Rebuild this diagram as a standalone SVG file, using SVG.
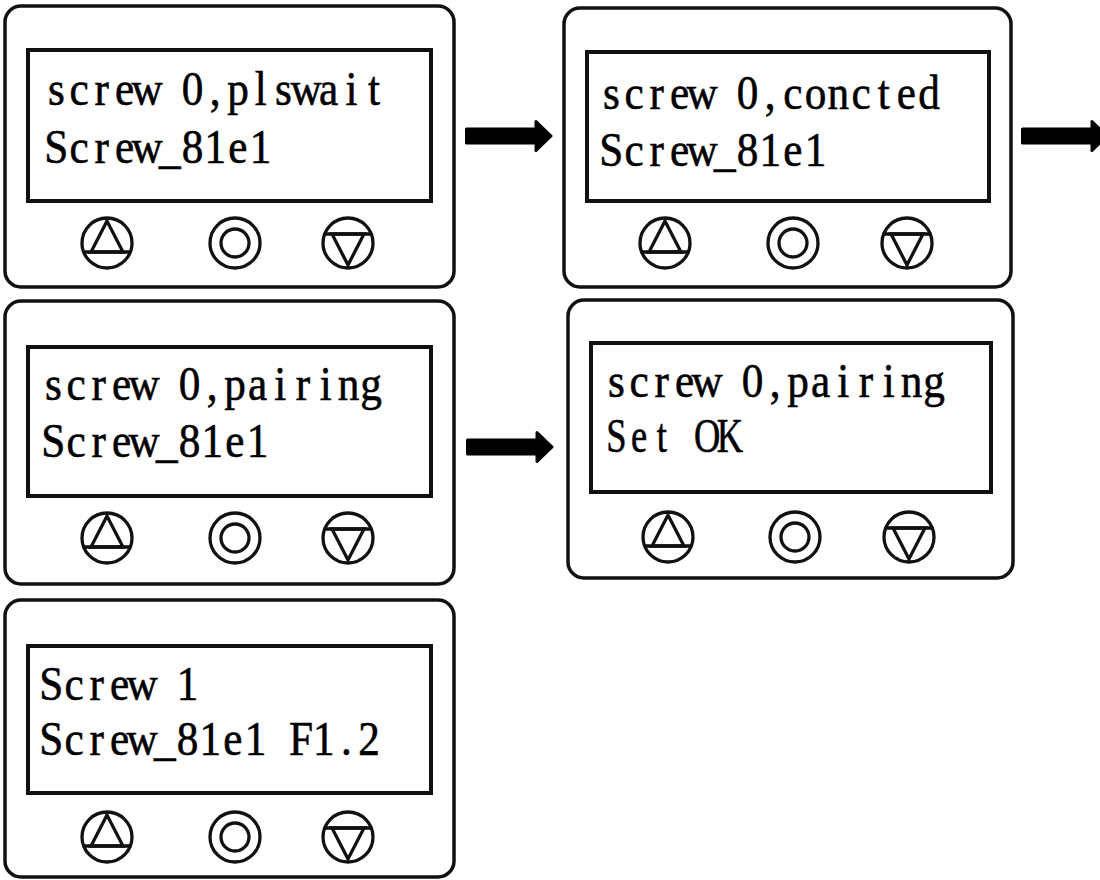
<svg xmlns="http://www.w3.org/2000/svg" xmlns:xlink="http://www.w3.org/1999/xlink" width="1100" height="880" viewBox="0 0 1100 880">
<style>
.body{fill:#fff;stroke:#111;stroke-width:3.5}
.screen{fill:#fff;stroke:#111;stroke-width:4}
.btn{fill:none;stroke:#111;stroke-width:3.3}
.lcd{font-family:"Liberation Serif","Times New Roman",serif;font-size:48px;fill:#000;stroke:#000;stroke-width:0.6;text-anchor:middle}
.arrow{fill:#000;stroke:#000;stroke-width:3;stroke-linejoin:round}
</style>
<defs>
<g id="bUp" class="btn"><circle r="25"/><line x1="-23.3" y1="9" x2="23.3" y2="9"/><polygon points="0,-22 -16,9 16,9"/></g>
<g id="bOk" class="btn"><circle r="25"/><circle r="14"/></g>
<g id="bDn" class="btn"><circle r="25"/><line x1="-23.3" y1="-9" x2="23.3" y2="-9"/><polygon points="0,22 -16,-9 16,-9"/></g>
<path id="arr" d="M1.5,-7 H71 V-14.5 L86,0 L71,14.5 V7 H1.5 Z"/>
</defs>
<rect width="1100" height="880" fill="#fff"/>

<g id="panel1">
<rect class="body" x="5" y="6" width="449" height="281" rx="16"/>
<rect class="screen" x="28" y="50" width="403" height="151"/>
<text class="lcd" transform="translate(45,105) scale(0.9,1)" x="12.6 37.8 63 88.3 113.5 138.7 163.9 189.1 214.4 239.6 264.8 290 315.2 340.5 365.7" y="0">screw 0,plswait</text>
<text class="lcd" transform="translate(45,163) scale(0.9,1)" x="12.6 37.8 63 88.3 113.5 138.7 163.9 189.1 214.4 239.6 264.8 290 315.2 340.5 365.7" y="0">Screw_81e1</text>
<use xlink:href="#bUp" x="107" y="243"/><use xlink:href="#bOk" x="235" y="243"/><use xlink:href="#bDn" x="348" y="243"/>
</g>

<g id="panel2">
<rect class="body" x="564" y="8" width="447" height="279" rx="16"/>
<rect class="screen" x="587" y="52" width="402" height="149"/>
<text class="lcd" transform="translate(600,109) scale(0.9,1)" x="12.6 37.8 63 88.3 113.5 138.7 163.9 189.1 214.4 239.6 264.8 290 315.2 340.5 365.7" y="0">screw 0,concted</text>
<text class="lcd" transform="translate(600,166) scale(0.9,1)" x="12.6 37.8 63 88.3 113.5 138.7 163.9 189.1 214.4 239.6 264.8 290 315.2 340.5 365.7" y="0">Screw_81e1</text>
<use xlink:href="#bUp" x="665" y="243"/><use xlink:href="#bOk" x="793" y="243"/><use xlink:href="#bDn" x="907" y="243"/>
</g>

<g id="panel3">
<rect class="body" x="5" y="301" width="449" height="283" rx="16"/>
<rect class="screen" x="28" y="347" width="403" height="149"/>
<text class="lcd" transform="translate(42,400) scale(0.9,1)" x="12.6 37.8 63 88.3 113.5 138.7 163.9 189.1 214.4 239.6 264.8 290 315.2 340.5 365.7" y="0">screw 0,pairing</text>
<text class="lcd" transform="translate(42,457) scale(0.9,1)" x="12.6 37.8 63 88.3 113.5 138.7 163.9 189.1 214.4 239.6 264.8 290 315.2 340.5 365.7" y="0">Screw_81e1</text>
<use xlink:href="#bUp" x="107" y="538"/><use xlink:href="#bOk" x="235" y="538"/><use xlink:href="#bDn" x="348" y="538"/>
</g>

<g id="panel4">
<rect class="body" x="568" y="300" width="445" height="278" rx="16"/>
<rect class="screen" x="591" y="343" width="400" height="149"/>
<text class="lcd" transform="translate(605,397) scale(0.9,1)" x="12.6 37.8 63 88.3 113.5 138.7 163.9 189.1 214.4 239.6 264.8 290 315.2 340.5 365.7" y="0">screw 0,pairing</text>
<text class="lcd" transform="translate(605,452) scale(0.76,1)" x="14.9 44.8 74.7 104.6 134.4 164.3" y="0">Set OK</text>
<use xlink:href="#bUp" x="668" y="537"/><use xlink:href="#bOk" x="795" y="537"/><use xlink:href="#bDn" x="909" y="537"/>
</g>

<g id="panel5">
<rect class="body" x="5" y="600" width="449" height="277" rx="16"/>
<rect class="screen" x="28" y="646" width="403" height="147"/>
<text class="lcd" transform="translate(40,700) scale(0.9,1)" x="12.6 37.8 63 88.3 113.5 138.7 163.9 189.1 214.4 239.6 264.8 290 315.2 340.5 365.7" y="0">Screw 1</text>
<text class="lcd" transform="translate(40,755) scale(0.9,1)" x="12.6 37.8 63 88.3 113.5 138.7 163.9 189.1 214.4 239.6 264.8 290 315.2 340.5 365.7" y="0">Screw_81e1 F1.2</text>
<use xlink:href="#bUp" x="107" y="837"/><use xlink:href="#bOk" x="235" y="837"/><use xlink:href="#bDn" x="348" y="837"/>
</g>

<g id="connectors" class="arrow">
<use xlink:href="#arr" x="465" y="136"/>
<use xlink:href="#arr" x="466" y="447"/>
<use xlink:href="#arr" x="1021" y="136"/>
</g>
</svg>
